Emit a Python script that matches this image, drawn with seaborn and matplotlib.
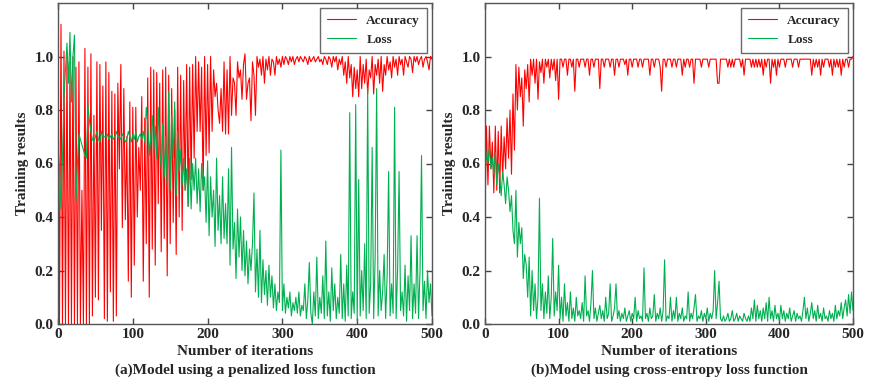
import numpy as np
import pandas as pd
import seaborn as sns
import matplotlib.pyplot as plt

# Iterations sampled every 2 steps
iterations = list(range(0, 501, 2))

# (a) penalized loss function
acc_a = [
    1.00, 0.00, 1.12, 0.00, 1.02, 0.00, 1.00, 0.00, 0.98, 0.00,
    1.00, 0.00, 0.96, 0.00, 0.98, 0.00, 0.50, 0.00, 1.03, 0.00,
    0.96, 0.00, 1.01, 0.03, 0.78, 0.10, 0.98, 0.09, 0.97, 0.35,
    0.89, 0.02, 0.98, 0.01, 0.94, 0.12, 0.87, 0.01, 0.86, 0.03,
    0.90, 0.58, 0.97, 0.36, 0.88, 0.39, 0.70, 0.16, 0.83, 0.10,
    0.81, 0.22, 0.81, 0.40, 0.66, 0.50, 0.85, 0.16, 0.77, 0.30,
    0.92, 0.10, 0.96, 0.28, 0.95, 0.22, 0.94, 0.45, 0.90, 0.27,
    0.95, 0.32, 0.96, 0.18, 0.93, 0.30, 0.88, 0.38, 0.80, 0.26,
    0.96, 0.40, 0.93, 0.35, 0.91, 0.50, 0.97, 0.44, 0.96, 0.54,
    0.97, 0.62, 1.00, 0.72, 0.98, 0.72, 0.96, 0.50, 1.00, 0.63,
    0.97, 0.64, 1.00, 0.72, 0.95, 0.85, 0.90, 0.80, 0.75, 0.88,
    0.72, 0.98, 0.71, 0.95, 0.71, 1.00, 0.78, 0.92, 0.90, 0.78,
    0.98, 0.92, 0.95, 0.84, 0.97, 1.01, 0.84, 0.90, 0.92, 0.76,
    0.98, 0.93, 0.78, 1.00, 0.96, 0.99, 0.93, 1.00, 0.90, 0.99,
    0.95, 1.00, 0.93, 0.99, 0.98, 0.93, 1.00, 0.97, 0.99, 0.96,
    1.00, 0.97, 1.00, 0.99, 0.97, 1.00, 0.98, 1.00, 0.97, 0.99,
    1.00, 0.98, 1.00, 0.99, 0.98, 1.00, 0.99, 0.97, 1.00, 0.98,
    0.99, 1.00, 0.98, 0.99, 1.00, 0.98, 0.99, 0.97, 1.00, 0.99,
    0.97, 1.00, 0.99, 0.96, 1.00, 0.98, 1.00, 0.95, 0.99, 0.97,
    1.00, 0.93, 0.98, 0.90, 1.00, 0.92, 0.97, 0.85, 0.96, 0.88,
    0.95, 0.85, 1.00, 0.88, 0.97, 0.90, 0.99, 0.86, 0.95, 0.92,
    1.00, 0.86, 0.97, 0.93, 0.99, 0.90, 1.00, 0.87, 0.97, 0.93,
    1.00, 0.95, 0.98, 0.92, 1.00, 0.96, 0.99, 0.93, 1.00, 0.97,
    0.99, 0.93, 1.00, 0.98, 0.96, 1.00, 0.99, 0.94, 1.00, 0.98,
    1.00, 0.97, 0.99, 1.00, 0.96, 0.99, 1.00, 0.98, 0.95, 1.00,
    0.99,
]
loss_a = [
    0.66, 0.58, 0.43, 0.62, 0.85, 0.95, 1.05, 0.90, 1.09, 0.83,
    1.00, 1.08, 0.46, 0.60, 0.71, 0.69, 0.67, 0.65, 0.63, 0.62,
    0.82, 0.76, 0.72, 0.69, 0.68, 0.70, 0.72, 0.69, 0.68, 0.72,
    0.70, 0.70, 0.70, 0.71, 0.69, 0.70, 0.71, 0.69, 0.70, 0.72,
    0.70, 0.70, 0.69, 0.71, 0.70, 0.68, 0.69, 0.72, 0.70, 0.68,
    0.71, 0.69, 0.72, 0.68, 0.70, 0.71, 0.69, 0.72, 0.68, 0.81,
    0.75, 0.63, 0.70, 0.78, 0.65, 0.74, 0.62, 0.81, 0.66, 0.58,
    0.75, 0.55, 0.70, 0.52, 0.87, 0.50, 0.78, 0.62, 0.83, 0.48,
    0.72, 0.57, 0.65, 0.52, 0.62, 0.50, 0.58, 0.44, 0.62, 0.43,
    0.60, 0.50, 0.62, 0.45, 0.58, 0.42, 0.60, 0.50, 0.55, 0.38,
    0.61, 0.33, 0.55, 0.40, 0.50, 0.29, 0.62, 0.35, 0.48, 0.30,
    0.55, 0.32, 0.45, 0.30, 0.58, 0.22, 0.66, 0.28, 0.38, 0.17,
    0.43, 0.25, 0.40, 0.20, 0.35, 0.18, 0.31, 0.15, 0.28, 0.20,
    0.30, 0.49, 0.12, 0.28, 0.10, 0.35, 0.08, 0.24, 0.11, 0.20,
    0.07, 0.22, 0.10, 0.18, 0.06, 0.15, 0.05, 0.12, 0.08, 0.65,
    0.05, 0.15, 0.04, 0.10, 0.06, 0.12, 0.03, 0.08, 0.05, 0.10,
    0.04, 0.12, 0.03, 0.07, 0.05, 0.15, 0.02, 0.09, 0.23, 0.04,
    0.00, 0.12, 0.03, 0.25, 0.02, 0.10, 0.04, 0.18, 0.02, 0.31,
    0.03, 0.12, 0.01, 0.21, 0.05, 0.15, 0.02, 0.10, 0.04, 0.26,
    0.02, 0.15, 0.01, 0.22, 0.03, 0.79, 0.02, 0.12, 0.04, 0.82,
    0.01, 0.54, 0.03, 0.20, 0.05, 0.30, 0.02, 0.88, 0.04, 0.15,
    0.66, 0.02, 0.25, 0.88, 0.03, 0.20, 0.05, 0.12, 0.26, 0.02,
    0.18, 0.57, 0.03, 0.15, 0.04, 0.81, 0.02, 0.20, 0.57, 0.05,
    0.12, 0.03, 0.22, 0.01, 0.18, 0.05, 0.33, 0.02, 0.15, 0.04,
    0.33, 0.02, 0.20, 0.63, 0.05, 0.16, 0.02, 0.20, 0.08, 0.15,
    0.03,
]

# (b) cross-entropy loss function
acc_b = [
    0.40, 0.74, 0.52, 0.74, 0.58, 0.68, 0.49, 0.74, 0.50, 0.72,
    0.49, 0.74, 0.55, 0.70, 0.58, 0.77, 0.62, 0.80, 0.56, 0.86,
    0.65, 0.97, 0.80, 0.96, 0.85, 0.92, 0.74, 0.95, 0.88, 0.97,
    0.83, 0.99, 0.93, 0.99, 0.90, 0.99, 0.84, 0.98, 0.94, 0.99,
    0.90, 0.99, 0.96, 0.99, 0.92, 0.99, 0.95, 0.99, 0.91, 0.99,
    0.84, 0.99, 0.99, 0.96, 0.99, 0.99, 0.93, 0.99, 0.99, 0.96,
    0.99, 0.87, 0.99, 0.99, 0.96, 0.99, 0.99, 0.99, 0.96, 0.99,
    0.99, 0.93, 0.99, 0.99, 0.96, 0.99, 0.99, 0.99, 0.88, 0.99,
    0.99, 0.96, 0.99, 0.99, 0.99, 0.96, 0.99, 0.99, 0.93, 0.99,
    0.99, 0.96, 0.99, 0.99, 0.99, 0.97, 0.99, 0.93, 0.99, 0.99,
    0.96, 0.99, 0.99, 0.99, 0.96, 0.99, 0.99, 0.96, 0.99, 0.99,
    0.99, 0.99, 0.93, 0.99, 0.99, 0.96, 0.99, 0.99, 0.99, 0.96,
    0.87, 0.99, 0.99, 0.96, 0.99, 0.99, 0.99, 0.96, 0.99, 0.99,
    0.96, 0.99, 0.99, 0.99, 0.93, 0.99, 0.96, 0.99, 0.99, 0.96,
    0.99, 0.99, 0.90, 0.99, 0.99, 0.99, 0.99, 0.96, 0.99, 0.99,
    0.99, 0.99, 0.96, 0.99, 0.99, 0.99, 0.99, 0.99, 0.90, 0.90,
    0.99, 0.99, 0.99, 0.99, 0.99, 0.96, 0.99, 0.96, 0.99, 0.96,
    0.99, 0.99, 0.99, 0.99, 0.96, 0.99, 0.93, 0.99, 0.99, 0.99,
    0.99, 0.96, 0.99, 0.96, 0.99, 0.96, 0.99, 0.96, 0.99, 0.93,
    0.99, 0.96, 0.99, 0.99, 0.90, 0.99, 0.96, 0.99, 0.93, 0.99,
    0.96, 0.99, 0.99, 0.99, 0.96, 0.99, 0.99, 0.99, 0.99, 0.96,
    0.99, 0.99, 0.99, 0.96, 0.99, 0.99, 0.99, 0.99, 0.99, 0.99,
    0.99, 0.99, 0.93, 0.99, 0.96, 0.99, 0.96, 0.99, 0.93, 0.99,
    0.96, 0.99, 0.99, 0.99, 0.96, 0.99, 0.93, 0.99, 0.96, 0.99,
    0.96, 0.99, 0.93, 0.99, 0.96, 0.99, 0.99, 0.96, 0.99, 0.99,
    1.00,
]
loss_b = [
    0.68, 0.62, 0.60, 0.66, 0.58, 0.62, 0.56, 0.64, 0.52, 0.60,
    0.55, 0.48, 0.57, 0.52, 0.45, 0.55, 0.50, 0.42, 0.48, 0.35,
    0.30, 0.50, 0.25, 0.38, 0.30, 0.36, 0.17, 0.26, 0.22, 0.10,
    0.25, 0.03, 0.20, 0.05, 0.15, 0.02, 0.10, 0.47, 0.05, 0.15,
    0.02, 0.12, 0.04, 0.18, 0.02, 0.10, 0.32, 0.03, 0.12, 0.05,
    0.22, 0.02, 0.10, 0.01, 0.15, 0.03, 0.08, 0.01, 0.12, 0.02,
    0.06, 0.01, 0.10, 0.03, 0.05, 0.02, 0.08, 0.01, 0.18, 0.03,
    0.05, 0.01, 0.08, 0.20, 0.02, 0.06, 0.01, 0.04, 0.07, 0.02,
    0.05, 0.01, 0.10, 0.02, 0.04, 0.15, 0.01, 0.03, 0.06, 0.15,
    0.02, 0.05, 0.01, 0.04, 0.02, 0.06, 0.01, 0.03, 0.05, 0.01,
    0.04, 0.02, 0.10, 0.01, 0.05, 0.02, 0.03, 0.01, 0.21, 0.02,
    0.04, 0.01, 0.06, 0.02, 0.03, 0.11, 0.01, 0.04, 0.02, 0.06,
    0.01, 0.05, 0.24, 0.01, 0.03, 0.02, 0.10, 0.01, 0.05, 0.02,
    0.10, 0.01, 0.04, 0.02, 0.06, 0.01, 0.03, 0.02, 0.12, 0.01,
    0.04, 0.02, 0.06, 0.11, 0.01, 0.03, 0.02, 0.05, 0.01, 0.04,
    0.02, 0.06, 0.01, 0.04, 0.02, 0.05, 0.20, 0.02, 0.08, 0.16,
    0.02, 0.01, 0.03, 0.01, 0.02, 0.04, 0.01, 0.02, 0.05, 0.01,
    0.02, 0.04, 0.01, 0.03, 0.02, 0.01, 0.04, 0.02, 0.01, 0.03,
    0.01, 0.06, 0.02, 0.09, 0.01, 0.07, 0.02, 0.05, 0.01, 0.06,
    0.02, 0.08, 0.01, 0.10, 0.02, 0.05, 0.01, 0.07, 0.02, 0.04,
    0.01, 0.07, 0.02, 0.05, 0.01, 0.04, 0.02, 0.06, 0.01, 0.03,
    0.05, 0.01, 0.04, 0.02, 0.03, 0.01, 0.05, 0.10, 0.02, 0.06,
    0.01, 0.04, 0.08, 0.02, 0.05, 0.01, 0.07, 0.02, 0.04, 0.01,
    0.06, 0.02, 0.03, 0.01, 0.05, 0.02, 0.04, 0.01, 0.07, 0.02,
    0.05, 0.03, 0.08, 0.02, 0.06, 0.09, 0.03, 0.11, 0.04, 0.12,
    0.05,
]

captions = ["(a)Model using a penalized loss function",
            "(b)Model using cross-entropy loss function"]
x_ticks = [0, 100, 200, 300, 400, 500]
y_ticks = [0.0, 0.2, 0.4, 0.6, 0.8, 1.0]

sns.set_style("ticks")
plt.rcParams['font.family'] = ['Liberation Serif', 'DejaVu Serif']
plt.rcParams['font.weight'] = 'bold'

fig = plt.figure(figsize=(8.74, 3.86), dpi=100)
ax_a = fig.add_axes([58 / 874, 62 / 386, 374 / 874, 321 / 386])
ax_b = fig.add_axes([485 / 874, 62 / 386, 368 / 874, 321 / 386])

panels = [(ax_a, acc_a, loss_a), (ax_b, acc_b, loss_b)]
for i, (ax, acc, loss) in enumerate(panels):
    df = pd.DataFrame({'iteration': iterations, 'Accuracy': acc, 'Loss': loss})
    sns.lineplot(data=df, x='iteration', y='Accuracy', ax=ax, color='#FF0000',
                 lw=0.8, label='Accuracy')
    sns.lineplot(data=df, x='iteration', y='Loss', ax=ax, color='#00B050',
                 lw=0.8, label='Loss')
    ax.set_xlim(0, 500)
    ax.set_ylim(0, 1.2)
    ax.set_xticks(x_ticks)
    ax.set_yticks(y_ticks)
    ax.set_yticklabels([f"{v:.1f}" for v in y_ticks])
    ax.tick_params(direction='in', top=True, right=True, length=4, width=1,
                   labelsize=11, pad=3, color='#444444')
    for lab in ax.get_xticklabels() + ax.get_yticklabels():
        lab.set_fontweight('bold')
    for sp in ax.spines.values():
        sp.set_color('#555555')
        sp.set_linewidth(1.0)
    ax.set_xlabel('Number of iterations', fontsize=11, fontweight='bold', labelpad=3)
    ax.set_ylabel('Training results', fontsize=11, fontweight='bold', labelpad=4)
    leg = ax.legend(loc='upper right', fontsize=9.5, frameon=True, fancybox=False,
                    borderaxespad=0.4, handlelength=2.2, labelspacing=0.5,
                    borderpad=0.5)
    leg.get_frame().set_edgecolor('#444444')
    leg.get_frame().set_linewidth(1.0)
    for t in leg.get_texts():
        t.set_fontweight('bold')
    pos = ax.get_position()
    fig.text(pos.x0 + pos.width / 2, 1 - 370 / 386, captions[i], ha='center',
             va='center', fontsize=11, fontweight='bold')

fig.savefig('out.png', dpi=100, facecolor='white')
